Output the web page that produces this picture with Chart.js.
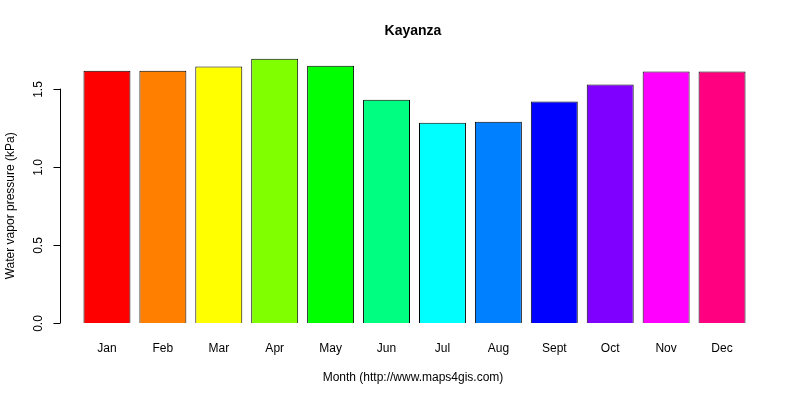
<!DOCTYPE html>
<html><head><script src="https://cdn.jsdelivr.net/npm/chart.js@4"></script>
<style>body{margin:0;background:#fff}#w{width:800px;height:400px}</style></head>
<body><div id="w"><canvas id="c"></canvas></div>
<script>
const months=["Jan","Feb","Mar","Apr","May","Jun","Jul","Aug","Sept","Oct","Nov","Dec"];
const vapor=[1.615,1.615,1.641,1.692,1.647,1.429,1.282,1.288,1.417,1.526,1.609,1.609];
const colors=["#FF0000","#FF8000","#FFFF00","#80FF00","#00FF00","#00FF80","#00FFFF","#0080FF","#0000FF","#8000FF","#FF00FF","#FF0080"];
const yTicks=[0,0.5,1.0,1.5];
const F='"Liberation Sans", Arial, sans-serif';
const deco={id:'deco',afterDraw(ch){
 const c=ch.ctx,x=ch.scales.x,y=ch.scales.y;c.save();c.fillStyle='#000';c.strokeStyle='#000';c.lineWidth=1;
 c.font='bold 14px '+F;c.textAlign='center';c.textBaseline='middle';c.fillText('Kayanza',413,31);
 c.font='12px '+F;
 months.forEach((m,i)=>c.fillText(m,x.getPixelForValue(i),349));
 c.fillText('Month (http://www.maps4gis.com)',413,378);
 const ax=60.5;c.beginPath();c.moveTo(ax,y.getPixelForValue(0));c.lineTo(ax,y.getPixelForValue(1.5));c.stroke();
 yTicks.forEach(v=>{const p=Math.round(y.getPixelForValue(v))+0.5;c.beginPath();c.moveTo(ax,p);c.lineTo(ax-7,p);c.stroke();
  c.save();c.translate(39,p);c.rotate(-Math.PI/2);c.fillText(v.toFixed(1),0,0);c.restore();});
 c.save();c.translate(11,y.getPixelForValue(0.75));c.rotate(-Math.PI/2);c.fillText('Water vapor pressure (kPa)',0,0);c.restore();
 c.restore();}};
new Chart(document.getElementById('c'),{type:'bar',
 data:{labels:months,datasets:[{data:vapor,backgroundColor:colors,borderColor:'#000',borderWidth:1,barPercentage:0.84,categoryPercentage:1}]},
 options:{responsive:true,maintainAspectRatio:false,animation:false,
  layout:{padding:{left:79,right:50,top:48,bottom:77}},
  plugins:{legend:{display:false},tooltip:{enabled:false}},
  scales:{x:{display:false},y:{display:false,min:0,max:1.76}}},
 plugins:[deco]});
</script></body></html>
